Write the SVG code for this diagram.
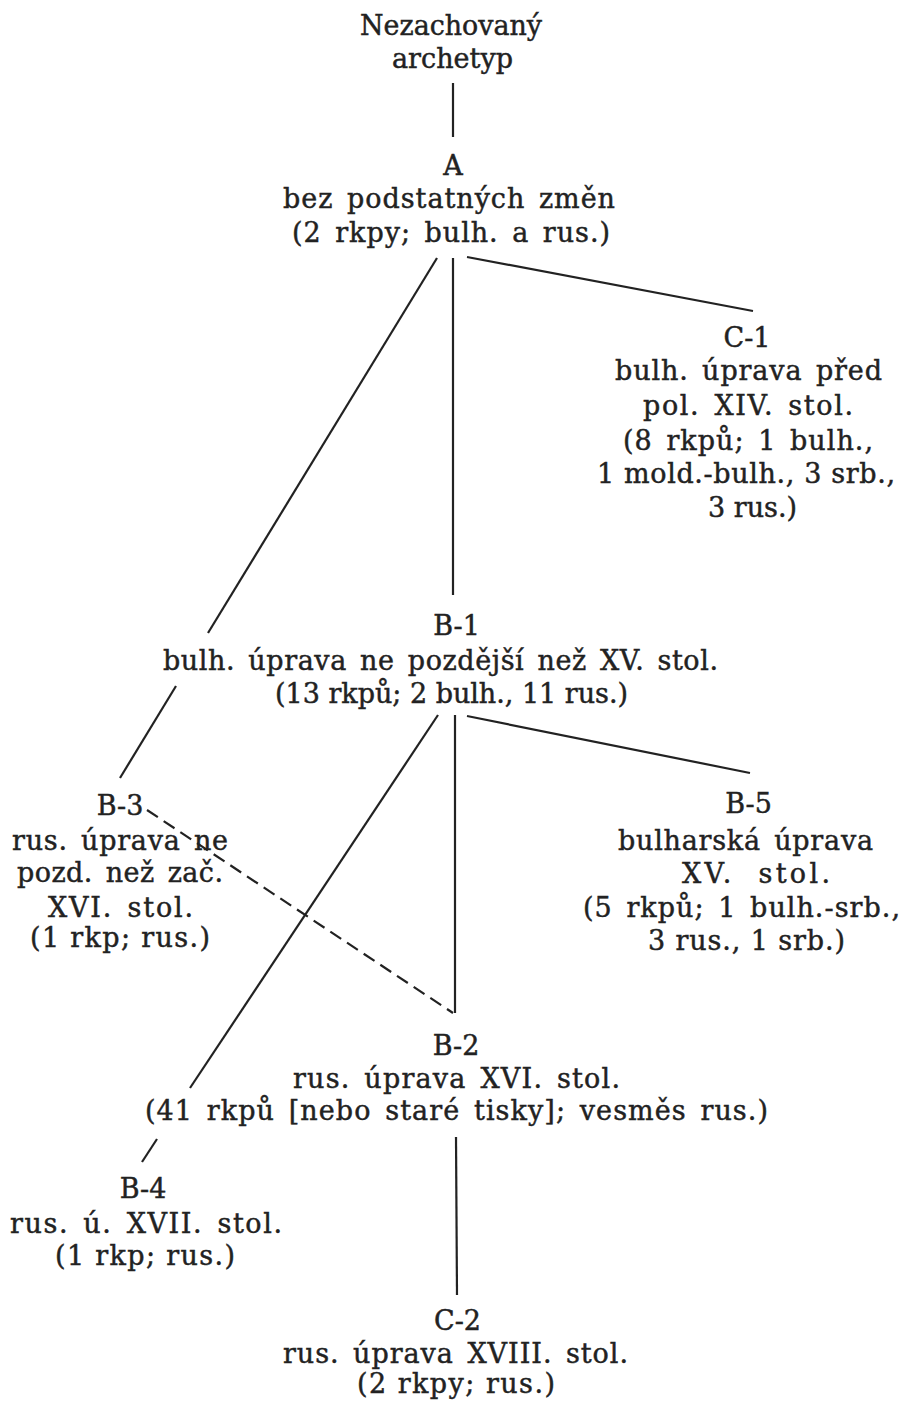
<svg xmlns="http://www.w3.org/2000/svg" width="903" height="1402" viewBox="0 0 903 1402">
<style>
text{font-family:"DejaVu Serif","Liberation Serif",serif;font-size:27px;fill:#222;stroke:#222;stroke-width:0.45;text-anchor:middle;word-spacing:4px}
text.n{word-spacing:0}
text.w{word-spacing:12px}
.c line{stroke:#222;stroke-width:2.2;fill:none}
.c .d{stroke-dasharray:13 7}
</style>
<rect width="903" height="1402" fill="#fff"/>
<g class="c" id="connectors">
<line x1="453" y1="83" x2="453" y2="137"/>
<line x1="437" y1="258" x2="208" y2="633"/>
<line x1="176" y1="686" x2="120" y2="778"/>
<line x1="453" y1="258" x2="453" y2="595"/>
<line x1="467" y1="257" x2="753" y2="311"/>
<line x1="438" y1="715" x2="190" y2="1088"/>
<line x1="157" y1="1139" x2="142" y2="1162"/>
<line x1="455" y1="715" x2="455" y2="1013"/>
<line x1="467" y1="716" x2="750" y2="773"/>
<line class="d" x1="147" y1="810" x2="453" y2="1013"/>
<line x1="456" y1="1137" x2="457" y2="1295"/>
</g>
<g id="archetyp">
<text x="451" y="35" textLength="182" lengthAdjust="spacingAndGlyphs">Nezachovaný</text>
<text x="452.5" y="68" textLength="121" lengthAdjust="spacingAndGlyphs">archetyp</text>
</g>
<g id="A">
<text x="453" y="175">A</text>
<text x="449" y="208" textLength="332">bez podstatných změn</text>
<text x="451" y="242" textLength="318">(2 rkpy; bulh. a rus.)</text>
</g>
<g id="C-1">
<text x="747" y="347">C-1</text>
<text x="748.5" y="380" textLength="267">bulh. úprava před</text>
<text x="748" y="415" textLength="210">pol. XIV. stol.</text>
<text x="748" y="450" textLength="250">(8 rkpů; 1 bulh.,</text>
<text class="n" x="746" y="483" textLength="298">1 mold.-bulh., 3 srb.,</text>
<text class="n" x="752.5" y="517" textLength="89">3 rus.)</text>
</g>
<g id="B-1">
<text x="456.5" y="635">B-1</text>
<text x="440.5" y="670" textLength="555">bulh. úprava ne pozdější než XV. stol.</text>
<text class="n" x="451.5" y="703" textLength="353">(13 rkpů; 2 bulh., 11 rus.)</text>
</g>
<g id="B-3">
<text x="120" y="815">B-3</text>
<text x="120" y="850" textLength="216">rus. úprava ne</text>
<text x="120" y="882" textLength="206">pozd. než zač.</text>
<text x="120.5" y="917" textLength="145">XVI. stol.</text>
<text class="n" x="120" y="947" textLength="180">(1 rkp; rus.)</text>
</g>
<g id="B-5">
<text x="748.5" y="813">B-5</text>
<text x="745.5" y="850" textLength="255">bulharská úprava</text>
<text class="w" x="756" y="883" textLength="148">XV. stol.</text>
<text x="741.5" y="917" textLength="317">(5 rkpů; 1 bulh.-srb.,</text>
<text class="n" x="746.5" y="950" textLength="197">3 rus., 1 srb.)</text>
</g>
<g id="B-2">
<text x="456" y="1055">B-2</text>
<text x="456.5" y="1088" textLength="327">rus. úprava XVI. stol.</text>
<text x="456.5" y="1120" textLength="623">(41 rkpů [nebo staré tisky]; vesměs rus.)</text>
</g>
<g id="B-4">
<text x="143" y="1198">B-4</text>
<text x="146" y="1233" textLength="272">rus. ú. XVII. stol.</text>
<text class="n" x="145" y="1265" textLength="180">(1 rkp; rus.)</text>
</g>
<g id="C-2">
<text x="457.5" y="1330">C-2</text>
<text x="455.5" y="1363" textLength="345">rus. úprava XVIII. stol.</text>
<text class="n" x="456" y="1393" textLength="198">(2 rkpy; rus.)</text>
</g>
</svg>
